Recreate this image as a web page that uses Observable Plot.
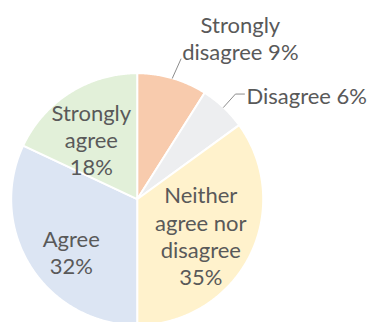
<!DOCTYPE html>
<html><head><meta charset="utf-8">
<script src="https://cdn.jsdelivr.net/npm/d3@7"></script>
<script src="https://cdn.jsdelivr.net/npm/@observablehq/plot@0.6"></script>
<style>html,body{margin:0;padding:0;background:#fff;overflow:hidden}</style>
</head><body><div id="chart"></div>
<script>
// ---- data ----
const categories = ["Strongly disagree", "Disagree", "Neither agree nor disagree", "Agree", "Strongly agree"];
const shares = [9, 6, 35, 32, 18];
const labelTexts = ["Strongly\ndisagree 9%", "Disagree 6%", "Neither\nagree nor\ndisagree\n35%", "Agree\n32%", "Strongly\nagree\n18%"];
const colors = ["#F8CBAD", "#EDEEF0", "#FFF2CC", "#DCE5F3", "#E2F0D9"];

// ---- layout (pixels) ----
const W = 367, H = 322;
const CX = 136.7, CY = 198.7, R = 126;
const FONT = "Lato, 'Open Sans', sans-serif";
const FS = 22;
const TEXT = "#595959";
// label placement: inside labels sit at mid-angle * 0.62R, nudged (px)
const labelPlacement = {
  "Strongly disagree": {outside: true, nudge: [68, -40.4], leader: [[0, 0], [8.6, -19.2]], anchor: "middle"},
  "Disagree": {outside: true, nudge: [23, -12.5], leader: [[0, 0], [12, -13.3], [21, -13.3]], anchor: "start"},
  "Neither agree nor disagree": {nudge: [-6, 1]},
  "Agree": {nudge: [0, 11]},
  "Strongly agree": {nudge: [-4, 6]}
};

const pie = d3.pie().sort(null).value(d => d)(shares);
const polar = (a, r) => [r * Math.sin(a), r * Math.cos(a)];
const px = (dx, dy) => [dx / R, -dy / R];

// slice polygons
const slicePts = [];
pie.forEach((p, i) => {
  const cat = categories[i];
  slicePts.push({cat, x: 0, y: 0});
  const n = Math.max(2, Math.ceil((p.endAngle - p.startAngle) / (Math.PI / 360)));
  for (let k = 0; k <= n; k++) {
    const a = p.startAngle + (p.endAngle - p.startAngle) * k / n;
    const [x, y] = polar(a, 1);
    slicePts.push({cat, x, y});
  }
});

const insideLabels = [], outsideMiddle = [], outsideStart = [], leaders = [];
pie.forEach((p, i) => {
  const cat = categories[i];
  const mid = (p.startAngle + p.endAngle) / 2;
  const cfg = labelPlacement[cat];
  const base = polar(mid, cfg.outside ? 1 : 0.62);
  const [nx, ny] = px(...cfg.nudge);
  const d = {cat, text: labelTexts[i], x: base[0] + nx, y: base[1] + ny};
  if (!cfg.outside) insideLabels.push(d);
  else {
    (cfg.anchor === "start" ? outsideStart : outsideMiddle).push(d);
    cfg.leader.forEach(([lx, ly]) => {
      const [ox, oy] = px(lx, ly);
      leaders.push({cat, x: base[0] + ox, y: base[1] + oy});
    });
  }
});

const textOpts = {x: "x", y: "y", text: "text", fill: TEXT, fontSize: FS, fontFamily: FONT, lineHeight: 1.24};

const chart = Plot.plot({
  width: W, height: H, margin: 0,
  style: {background: "#fff", fontFamily: FONT},
  x: {domain: [-1, 1], range: [CX - R, CX + R], axis: null},
  y: {domain: [-1, 1], range: [CY + R, CY - R], axis: null},
  color: {domain: categories, range: colors},
  marks: [
    Plot.line(slicePts, {x: "x", y: "y", z: "cat", fill: "cat", stroke: "white", strokeWidth: 2, strokeLinejoin: "round", curve: "linear-closed"}),
    Plot.line(leaders, {x: "x", y: "y", z: "cat", stroke: "#8C8C8C", strokeWidth: 1}),
    Plot.text(insideLabels, {...textOpts, textAnchor: "middle"}),
    Plot.text(outsideMiddle, {...textOpts, textAnchor: "middle"}),
    Plot.text(outsideStart, {...textOpts, textAnchor: "start"})
  ]
});
document.getElementById("chart").append(chart);
</script>
</body></html>
